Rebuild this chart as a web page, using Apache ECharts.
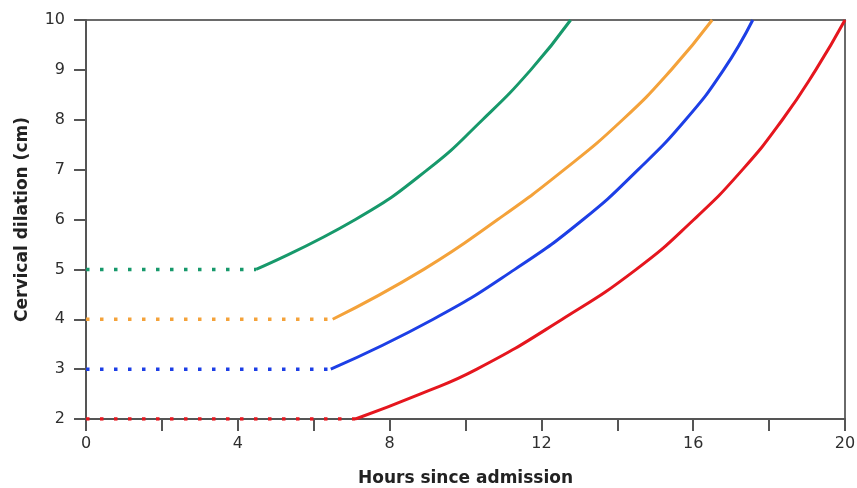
<!DOCTYPE html>
<html>
<head>
<meta charset="utf-8">
<title>Cervical dilation</title>
<script src="https://cdn.jsdelivr.net/npm/echarts@6/dist/echarts.min.js"></script>
<style>
  html, body { margin: 0; padding: 0; background: #fff; }
  #main { width: 857px; height: 488px; }
</style>
</head>
<body>
<div id="main"></div>
<script>
// dilation levels (cm) and the hour where each curve reaches them
var greenDil = [5, 6, 7, 8, 9, 10];
var greenHrs = [4.48, 7.1, 9.0, 10.45, 11.72, 12.77];

var orangeDil = [4, 5, 6, 7, 8, 9, 10];
var orangeHrs = [6.5, 8.9, 10.85, 12.6, 14.14, 15.42, 16.5];

var blueDil = [3, 4, 5, 6, 7, 8, 9, 10];
var blueHrs = [6.45, 9.15, 11.3, 13.1, 14.55, 15.8, 16.8, 17.57];

var redDil = [2, 2.5, 3, 4, 5, 6, 7, 8, 9, 10];
var redHrs = [7.1, 8.8, 10.3, 12.55, 14.5, 16.02, 17.3, 18.35, 19.23, 20];

var xTicks = [0, 4, 8, 12, 16, 20];

var colors = {
	green: '#17996b',
	orange: '#f4a23a',
	blue: '#1d3fe6',
	red: '#e5161e'
};

function pairs(hrs, dil) {
	var out = [];
	for (var i = 0; i < hrs.length; i++) {
		out.push([hrs[i], dil[i]]);
	}
	return out;
}

function curve(name, hrs, dil, color) {
	// dotted flat part before the curve starts, then the solid curve
	return [{
		name: name + ' latent',
		type: 'line',
		data: [[0, dil[0]], [hrs[0], dil[0]]],
		symbol: 'none',
		lineStyle: { color: color, width: 3.5, type: [3.5, 10.5] }
	}, {
		name: name,
		type: 'line',
		data: pairs(hrs, dil),
		symbol: 'none',
		smooth: 0.5,
		lineStyle: { color: color, width: 3 }
	}];
}

var seriesList = []
	.concat(curve('green', greenHrs, greenDil, colors.green))
	.concat(curve('orange', orangeHrs, orangeDil, colors.orange))
	.concat(curve('blue', blueHrs, blueDil, colors.blue))
	.concat(curve('red', redHrs, redDil, colors.red));

var labelFont = 'DejaVu Sans, Verdana, sans-serif';

var opt = {
	animation: false,
	backgroundColor: '#fff',
	grid: {
		left: 86, right: 12, top: 20, bottom: 69,
		containLabel: false,
		outerBoundsMode: 'none',
		show: true,
		borderColor: '#6a6a6a',
		borderWidth: 2
	},
	xAxis: {
		type: 'value',
		min: 0, max: 20, interval: 2,
		name: 'Hours since admission',
		nameLocation: 'middle',
		nameGap: 51,
		nameTextStyle: { fontFamily: labelFont, fontWeight: 'bold', fontSize: 17, color: '#222' },
		axisLine: { lineStyle: { color: '#555', width: 2 } },
		axisTick: { length: 12, lineStyle: { color: '#555', width: 2 } },
		axisLabel: {
			margin: 17,
			fontFamily: labelFont, fontSize: 16, color: '#2e2e2e',
			formatter: function (v) { return xTicks.indexOf(v) >= 0 ? String(v) : ''; }
		},
		splitLine: { show: false }
	},
	yAxis: {
		type: 'value',
		min: 2, max: 10, interval: 1,
		name: 'Cervical dilation (cm)',
		nameLocation: 'middle',
		nameGap: 55,
		nameTextStyle: { fontFamily: labelFont, fontWeight: 'bold', fontSize: 17, color: '#222' },
		axisLine: { lineStyle: { color: '#555', width: 2 } },
		axisTick: { length: 12, lineStyle: { color: '#555', width: 2 } },
		axisLabel: { margin: 21, fontFamily: labelFont, fontSize: 16, color: '#2e2e2e' },
		splitLine: { show: false }
	},
	series: seriesList
};

var chart = echarts.init(document.getElementById('main'));
chart.setOption(opt);
</script>
</body>
</html>
